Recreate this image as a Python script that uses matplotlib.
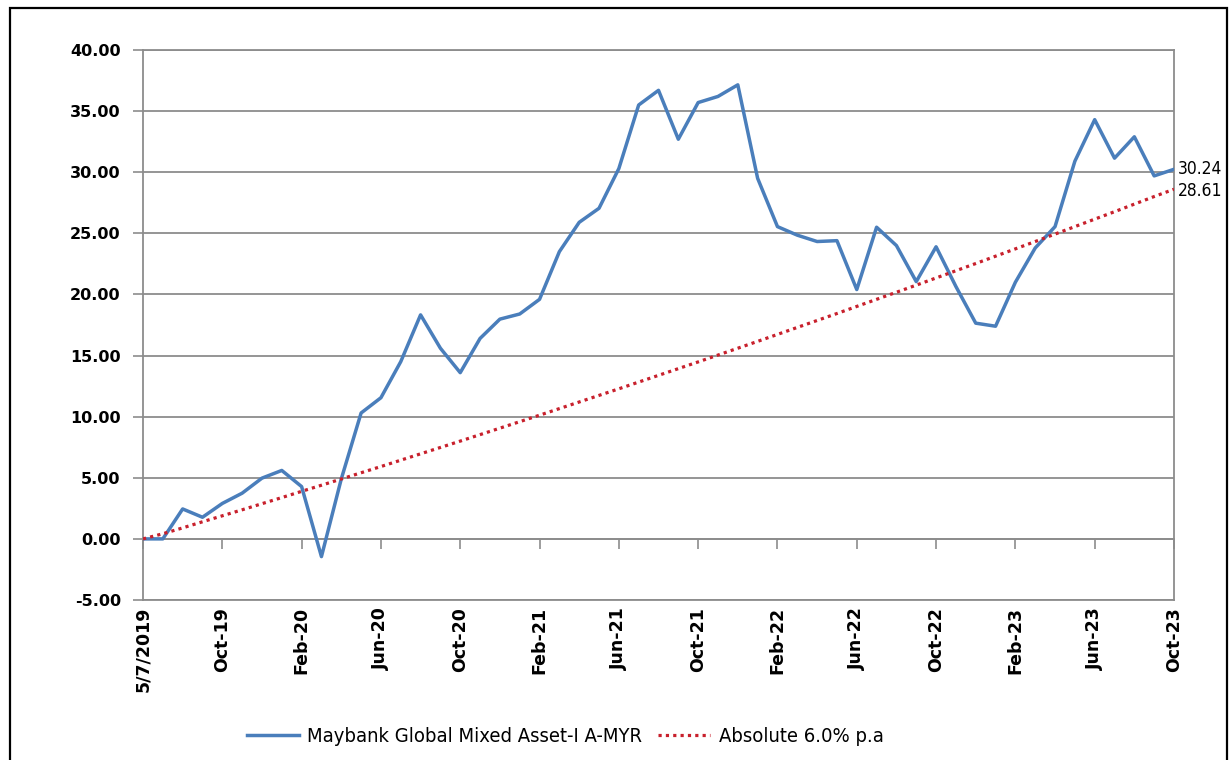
import numpy as np
import pandas as pd
import matplotlib.pyplot as plt
from matplotlib.patches import Rectangle


# categories: launch date, then month ends Jul-19 .. Oct-23
months = ['5/7/2019'] + [d.strftime('%b-%y') for d in pd.date_range('2019-07-01', '2023-10-01', freq='MS')]

fund = [0.00, 0.00, 2.45, 1.77, 2.90, 3.74, 4.97, 5.60, 4.28, -1.45,
        4.90, 10.30, 11.55, 14.50, 18.33, 15.60, 13.60, 16.40, 17.98, 18.40,
        19.60, 23.50, 25.90, 27.05, 30.30, 35.50, 36.70, 32.70, 35.70, 36.20,
        37.15, 29.50, 25.55, 24.85, 24.33, 24.40, 20.40, 25.50, 24.00, 21.05,
        23.90, 20.65, 17.65, 17.40, 21.00, 23.80, 25.55, 30.90, 34.30, 31.15,
        32.90, 29.70, 30.24]

bench = [0.00, 0.42, 0.90, 1.40, 1.89, 2.38, 2.88, 3.38, 3.89, 4.39,
         4.90, 5.41, 5.92, 6.44, 6.96, 7.48, 8.00, 8.53, 9.06, 9.59,
         10.12, 10.66, 11.20, 11.74, 12.28, 12.83, 13.38, 13.93, 14.48, 15.04,
         15.60, 16.16, 16.73, 17.30, 17.87, 18.44, 19.02, 19.60, 20.18, 20.76,
         21.35, 21.94, 22.53, 23.13, 23.73, 24.33, 24.94, 25.55, 26.16, 26.77,
         27.39, 28.01, 28.61]

fund_name = 'Maybank Global Mixed Asset-I A-MYR'
bench_name = 'Absolute 6.0% p.a'

grey = '#8c8c8c'
blue = '#4a7ebb'
red = '#c8202c'

fig = plt.figure(figsize=(12.32, 7.6), dpi=100)
ax = fig.add_axes([143/1232, 1 - 600/760, (1174 - 143)/1232, (600 - 50)/760])

x = np.arange(len(months))
ax.plot(x, fund, color=blue, lw=2.5, label=fund_name, zorder=3)
ax.plot(x, bench, color=red, lw=2.3, ls=(0, (1, 1.3)), label=bench_name, zorder=3)

ax.set_xlim(0, len(months) - 1)
ax.set_ylim(-5, 40)

yt = np.arange(-5, 41, 5)
ax.set_yticks(yt, ['%.2f' % v for v in yt])
ax.grid(axis='y', color=grey, lw=1.3)
ax.set_axisbelow(True)

xt = x[::4]
ax.set_xticks(xt, [months[i] for i in xt], rotation=90)
ax.tick_params(axis='x', length=0, pad=5)
ax.tick_params(axis='y', length=7, color=grey, width=1.2, pad=9)
for lab in ax.get_xticklabels():
    lab.set_fontweight('bold')
    lab.set_fontsize(12.5)
for lab in ax.get_yticklabels():
    lab.set_fontweight('bold')
    lab.set_fontsize(11.5)

for s in ax.spines.values():
    s.set_color(grey)
    s.set_linewidth(1.3)

# category axis crosses at 0
sec = ax.secondary_xaxis(5/45)
sec.set_xticks(xt, [''] * len(xt))
sec.tick_params(length=7, color=grey, width=1.2)
sec.spines['bottom'].set_color(grey)
sec.spines['bottom'].set_linewidth(1.3)

# end values
ax.annotate('%.2f' % fund[-1], xy=(x[-1], fund[-1]), xytext=(3, 0), textcoords='offset points',
            va='center', ha='left', fontsize=12.5, fontstretch='condensed', annotation_clip=False)
ax.annotate('%.2f' % bench[-1], xy=(x[-1], bench[-1]), xytext=(3, -1), textcoords='offset points',
            va='center', ha='left', fontsize=12.5, fontstretch='condensed', annotation_clip=False)

fig.legend(loc='center', bbox_to_anchor=(565/1232, 1 - 737/760), ncol=2, frameon=False,
           prop={'size': 14.5, 'stretch': 'condensed'}, handlelength=2.6, columnspacing=0.8,
           handletextpad=0.4)

fig.add_artist(Rectangle((10/1232, -0.05), (1227 - 10)/1232, 1 - 8/760 + 0.05,
                         transform=fig.transFigure, fill=False, ec='black', lw=1.6))

fig.savefig('out.png', dpi=100)
